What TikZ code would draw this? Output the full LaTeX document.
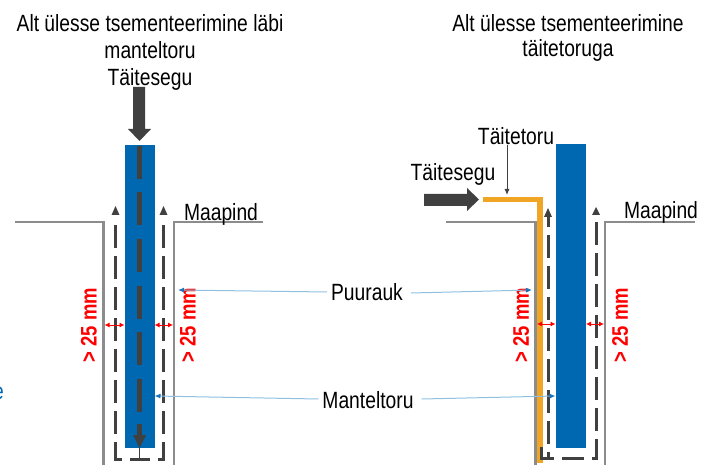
\documentclass[tikz,border=0pt]{standalone}
\usepackage{fontspec}
\setmainfont[FakeStretch=0.82]{Liberation Sans}
\usetikzlibrary{arrows.meta}
\definecolor{pipeblue}{HTML}{0067B1}
\definecolor{darkg}{HTML}{404040}
\definecolor{wallg}{HTML}{8C8C8C}
\definecolor{orangeT}{HTML}{F0A524}
\definecolor{thinblue}{HTML}{8FC0E0}
\definecolor{tipblue}{HTML}{1A72B8}
\tikzset{
  x=1pt,y=-1pt,
  label/.style={inner sep=0pt,font=\fontsize{23.5}{28}\selectfont,text=black,align=center},
  rlabel/.style={inner sep=0pt,font=\fontsize{22.5}{26}\selectfont\bfseries,text=red,rotate=90},
  wall/.style={draw=wallg,line width=2.6pt},
  flow/.style={draw=darkg,line width=3pt,dash pattern=on 23pt off 8pt},
  coreflow/.style={draw=darkg,line width=4.2pt,dash pattern=on 33pt off 13.5pt},
  flowhead/.style={fill=darkg,draw=none},
  bigarrow/.style={fill=darkg,draw=none},
  gap/.style={draw=red,line width=0.8pt,{Latex[length=5pt,width=5pt]}-{Latex[length=5pt,width=5pt]}},
  leader/.style={draw=thinblue,line width=1pt,-{Latex[length=6pt,width=5pt,color=tipblue]}},
  blackleader/.style={draw=darkg,line width=1pt,-{Latex[length=6pt,width=5pt]}},
  solidflow/.style={draw=darkg,line width=3pt}
}
\begin{document}
\begin{tikzpicture}
\useasboundingbox (0,0) rectangle (704,465);
% --- left diagram
\path[wall] (15,222) -- (103.5,222) -- (103.5,465);
\path[wall] (263,222) -- (174,222) -- (174,465);
\node[fill=pipeblue,inner sep=0pt,anchor=north west,text width=29.5pt,minimum height=303pt] (pipeL) at (125,145) {};
\path[coreflow] (139.5,146) -- (139.5,420);
\draw[darkg,line width=4.2pt] (139.5,424) -- (139.5,436);
\path[flowhead] (133,435) -- (146,435) -- (139.5,448) -- cycle;
\draw[darkg,line width=1.5pt] (139.5,448) -- (139.5,459);
\path[bigarrow] (133,87) -- (145,87) -- (145,129) -- (151,129) -- (139.5,141) -- (128,129) -- (133,129) -- cycle;
\path[flow] (115.5,225) -- (115.5,459) -- (139.5,459);
\path[flow] (163.5,225) -- (163.5,459) -- (139.5,459);
\path[flowhead] (115.5,206) -- (119.5,215) -- (111.5,215) -- cycle;
\path[flowhead] (163.5,206) -- (167.5,215) -- (159.5,215) -- cycle;
\coordinate (gL1a) at (104.5,325); \coordinate (gL1b) at (124.5,325);
\coordinate (gL2a) at (154.5,325); \coordinate (gL2b) at (173,325);
\draw[gap] (gL1a) -- (gL1b);
\draw[gap] (gL2a) -- (gL2b);
% --- right diagram
\draw[orangeT,line width=5.5pt,line join=miter] (483,199.5) -- (540,199.5) -- (540,463);
\path[wall] (446,222) -- (535.5,222) -- (535.5,465);
\path[wall] (695,222) -- (605,222) -- (605,465);
\node[fill=pipeblue,inner sep=0pt,anchor=north west,text width=29.5pt,minimum height=304pt] (pipeR) at (556,144) {};
\path[bigarrow] (424,194) -- (467,194) -- (467,188) -- (479,199.5) -- (467,211) -- (467,206) -- (424,206) -- cycle;
\path[flow] (548,235) -- (548,445);
\draw[darkg,line width=3pt] (548,216) -- (548,227);
\path[flowhead] (548,208) -- (552,217) -- (544,217) -- cycle;
\path[flow] (596,222) -- (596,436);
\draw[solidflow] (596,439) -- (596,458) -- (592,458);
\draw[solidflow] (562,458) -- (584,458);
\path[flowhead] (596,207) -- (600,215) -- (592,215) -- cycle;
\draw[solidflow] (541,447) -- (541,458) -- (554,458);
\draw[solidflow] (548,452) -- (548,458);
\coordinate (gR1a) at (537,324); \coordinate (gR1b) at (555.5,324);
\coordinate (gR2a) at (586,324); \coordinate (gR2b) at (604,324);
\draw[gap] (gR1a) -- (gR1b);
\draw[gap] (gR2a) -- (gR2b);
% --- labels
\node[label] (t1) at (150,23) {Alt ülesse tsementeerimine läbi};
\node[label] (t2) at (150,50) {manteltoru};
\node[label] (segL) at (150,79) {Täitesegu};
\node[label] (t3) at (568,23) {Alt ülesse tsementeerimine};
\node[label] (t4) at (568,50) {täitetoruga};
\node[label] (toru) at (516,136) {Täitetoru};
\node[label] (segR) at (453,174) {Täitesegu};
\node[label] (maaL) at (221,214) {Maapind};
\node[label] (maaR) at (661,212) {Maapind};
\node[label] (puur) at (367,292) {Puurauk};
\node[label] (mant) at (368,400) {Manteltoru};
\node[rlabel] (r1) at (89,325) {> 25 mm};
\node[rlabel] (r2) at (188,325) {> 25 mm};
\node[rlabel] (r3) at (521,325) {> 25 mm};
\node[rlabel] (r4) at (620,325) {> 25 mm};
\node[inner sep=0pt,font=\fontsize{23.5}{28}\selectfont,text=pipeblue,anchor=east] (frag) at (4,393) {e};
% --- leaders
\coordinate (tipP1) at (178,290); \coordinate (tipP2) at (532,290);
\coordinate (tipM1) at (154.5,396); \coordinate (tipM2) at (555.5,396);
\coordinate (tipT) at (507,195);
\draw[leader] (puur.west) ++(-4,0) -- (tipP1);
\draw[leader] (puur.east) ++(8,1) -- (tipP2);
\draw[leader] (mant.west) ++(-4,-1) -- (tipM1);
\draw[leader] (mant.east) ++(8,-1) -- (tipM2);
\draw[blackleader] (toru.south -| tipT) -- (tipT);
\end{tikzpicture}
\end{document}
